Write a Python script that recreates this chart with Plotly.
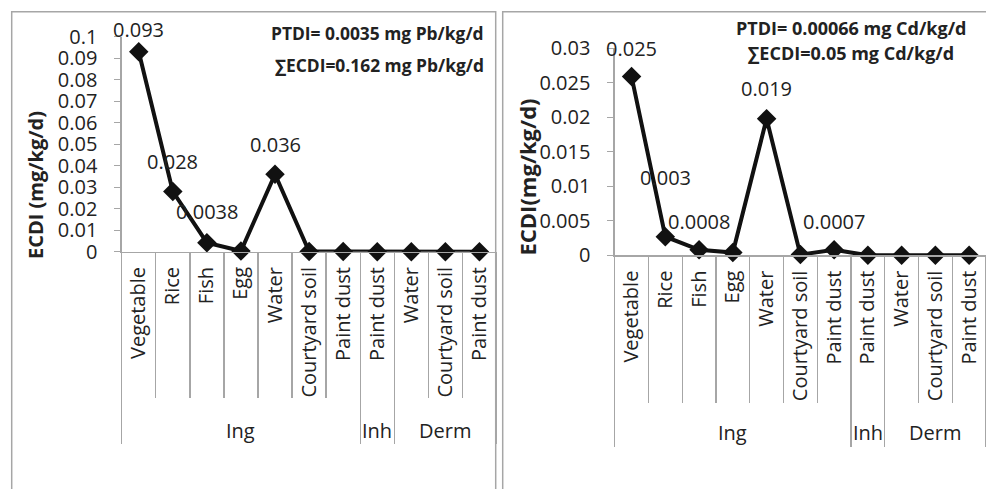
import plotly.graph_objects as go

# ---------------- data ----------------
categories = ["Vegetable", "Rice", "Fish", "Egg", "Water", "Courtyard soil",
              "Paint dust", "Paint dust", "Water", "Courtyard soil", "Paint dust"]
group_names = ["Ing", "Inh", "Derm"]
group_first = [0, 7, 8]
group_last = [6, 7, 10]

pb_values = [0.093, 0.028, 0.0042, 0.0003, 0.036, 0.0001, 0.0001, 0.0, 0.0, 0.0, 0.0]
cd_values = [0.0259, 0.0027, 0.0008, 0.0004, 0.0198, 0.0001, 0.0008, 0.0, 0.0, 0.0, 0.0]
pb_labels = ["0.093", "0.028", "0.0038", "", "0.036", "", "", "", "", "", ""]
cd_labels = ["0.025", "0.003", "0.0008", "", "0.019", "", "0.0007", "", "", "", ""]
pb_ticks = [0, 0.01, 0.02, 0.03, 0.04, 0.05, 0.06, 0.07, 0.08, 0.09, 0.1]
pb_ticktext = ["0", "0.01", "0.02", "0.03", "0.04", "0.05", "0.06", "0.07", "0.08", "0.09", "0.1"]
cd_ticks = [0, 0.005, 0.01, 0.015, 0.02, 0.025, 0.03]
cd_ticktext = ["0", "0.005", "0.01", "0.015", "0.02", "0.025", "0.03"]
pb_notes = ["PTDI= 0.0035 mg Pb/kg/d", "∑ECDI=0.162 mg Pb/kg/d"]
cd_notes = ["PTDI= 0.00066 mg Cd/kg/d", "∑ECDI=0.05 mg Cd/kg/d"]
y_title_pb = "ECDI (mg/kg/d)"
y_title_cd = "ECDI(mg/kg/d)"

# ---------------- style ----------------
W, H = 986, 489
FONT = "Open Sans"
TXT = "#222222"
AXC = "#a6a6a6"
FS = 20
pb_label_shift = [22, 30, 31, 0, 30, 0, 0, 0, 0, 0, 0]
cd_label_shift = [28, 59, 28, 0, 30, 0, 28, 0, 0, 0, 0]

def px_x(p):
    return p / W

def px_y(p):
    return 1 - p / H

idx = list(range(len(categories)))
boundaries = [i - 0.5 for i in range(len(categories) + 1)]
group_bounds = [group_first[0] - 0.5] + [g + 0.5 for g in group_last]
group_centers = [(a + b) / 2 for a, b in zip(group_first, group_last)]

panels = [
    dict(vals=pb_values, labels=pb_labels, shifts=pb_label_shift, ticks=pb_ticks,
         ticktext=pb_ticktext, ymax=0.1, xdom=[px_x(121.7), px_x(496.5)],
         ydom=[px_y(251.7), px_y(36.7)], xa=["x", "x3", "x5"], ya="y",
         sep_len=145, grp_len=191, grp_y=430, notes=pb_notes, note_fs=17.4,
         note_x=486, note_y=[33, 65], note_anchor="right",
         title=y_title_pb, title_x=36, title_y=185, title_fs=20),
    dict(vals=cd_values, labels=cd_labels, shifts=cd_label_shift, ticks=cd_ticks,
         ticktext=cd_ticktext, ymax=0.03, xdom=[px_x(614.7), 1.0],
         ydom=[px_y(255.3), px_y(48.3)], xa=["x2", "x4", "x6"], ya="y2",
         sep_len=147, grp_len=191, grp_y=432, notes=cd_notes, note_fs=18,
         note_x=851, note_y=[28, 53], note_anchor="center",
         title=y_title_cd, title_x=526, title_y=177.5, title_fs=22),
]

fig = go.Figure()
layout = dict(template="none", width=W, height=H,
              margin=dict(l=0, r=0, t=0, b=0, autoexpand=False),
              paper_bgcolor="white", plot_bgcolor="white", showlegend=False,
              font=dict(family=FONT, size=FS, color=TXT))
annotations = []
shapes = []

def axname(a):
    return "xaxis" if a == "x" else "xaxis" + a[1:]

for p in panels:
    xa, xsep, xgrp = p["xa"]
    ya = p["ya"]
    yname = "yaxis" if ya == "y" else "yaxis" + ya[1:]
    fig.add_trace(go.Scatter(
        x=idx, y=p["vals"], mode="lines+markers", xaxis=xa, yaxis=ya,
        line=dict(color="#111111", width=4),
        marker=dict(symbol="diamond", size=15, color="#111111"),
        cliponaxis=False, hoverinfo="skip"))
    # dummy traces so overlay axes render
    for a in (xsep, xgrp):
        fig.add_trace(go.Scatter(x=[None], y=[None], xaxis=a, yaxis=ya,
                                 mode="markers", hoverinfo="skip"))
    rng = [-0.5, len(categories) - 0.5]
    layout[axname(xa)] = dict(
        domain=p["xdom"], anchor=ya, range=rng, tickmode="array",
        tickvals=idx, ticktext=categories, tickangle=-90, ticks="",
        ticklabelstandoff=6, showline=True, linecolor=AXC, linewidth=1.3,
        showgrid=False, zeroline=False, automargin=False,
        tickfont=dict(size=FS, color=TXT))
    layout[axname(xsep)] = dict(
        overlaying=xa, anchor=ya, side="bottom", range=rng, tickmode="array",
        tickvals=boundaries, ticks="outside", ticklen=p["sep_len"],
        tickcolor=AXC, tickwidth=1.3, showticklabels=False, showgrid=False,
        zeroline=False, showline=False, automargin=False)
    layout[axname(xgrp)] = dict(
        overlaying=xa, anchor=ya, side="bottom", range=rng, tickmode="array",
        tickvals=group_bounds, ticks="outside", ticklen=p["grp_len"],
        tickcolor=AXC, tickwidth=1.3, showticklabels=False, showgrid=False,
        zeroline=False, showline=False, automargin=False)
    layout[yname] = dict(
        domain=p["ydom"], anchor=xa, range=[0, p["ymax"]], tickmode="array",
        tickvals=p["ticks"], ticktext=p["ticktext"], ticks="outside",
        ticklen=6, tickcolor=AXC, ticklabelstandoff=13, showline=True,
        linecolor=AXC, linewidth=1.3, showgrid=False, zeroline=False,
        automargin=False, tickfont=dict(size=FS, color=TXT))
    # data labels
    for i, (v, t, s) in enumerate(zip(p["vals"], p["labels"], p["shifts"])):
        if t:
            annotations.append(dict(x=i, y=v, xref=xa, yref=ya, text=t,
                                    showarrow=False, yshift=s,
                                    font=dict(size=FS, color=TXT)))
    # group labels
    for gname, gc in zip(group_names, group_centers):
        annotations.append(dict(x=gc, y=px_y(p["grp_y"]), xref=xa, yref="paper",
                                text=gname, showarrow=False, yanchor="middle",
                                font=dict(size=FS, color=TXT)))
    # notes
    for note, ny in zip(p["notes"], p["note_y"]):
        annotations.append(dict(x=px_x(p["note_x"]), y=px_y(ny), xref="paper",
                                yref="paper", text="<b>" + note + "</b>",
                                showarrow=False, xanchor=p["note_anchor"],
                                yanchor="middle",
                                font=dict(size=p["note_fs"], color=TXT)))
    # y title
    annotations.append(dict(x=px_x(p["title_x"]), y=px_y(p["title_y"]),
                            xref="paper", yref="paper", text="<b>" + p["title"] + "</b>",
                            textangle=-90, showarrow=False, xanchor="center",
                            yanchor="middle", font=dict(size=p["title_fs"], color=TXT)))

# panel borders
shapes.append(dict(type="rect", xref="paper", yref="paper", x0=px_x(11.7),
                   x1=px_x(495.7), y0=-0.1, y1=px_y(11.7),
                   line=dict(color=AXC, width=1.5)))
shapes.append(dict(type="rect", xref="paper", yref="paper", x0=px_x(502.7),
                   x1=1.1, y0=-0.1, y1=px_y(11.7),
                   line=dict(color=AXC, width=1.5)))

layout["annotations"] = annotations
layout["shapes"] = shapes
fig.update_layout(**layout)
fig.write_html("out.html", config={"displayModeBar": False, "staticPlot": True},
               post_script="document.body.style.margin='0';document.body.style.overflow='hidden';")
